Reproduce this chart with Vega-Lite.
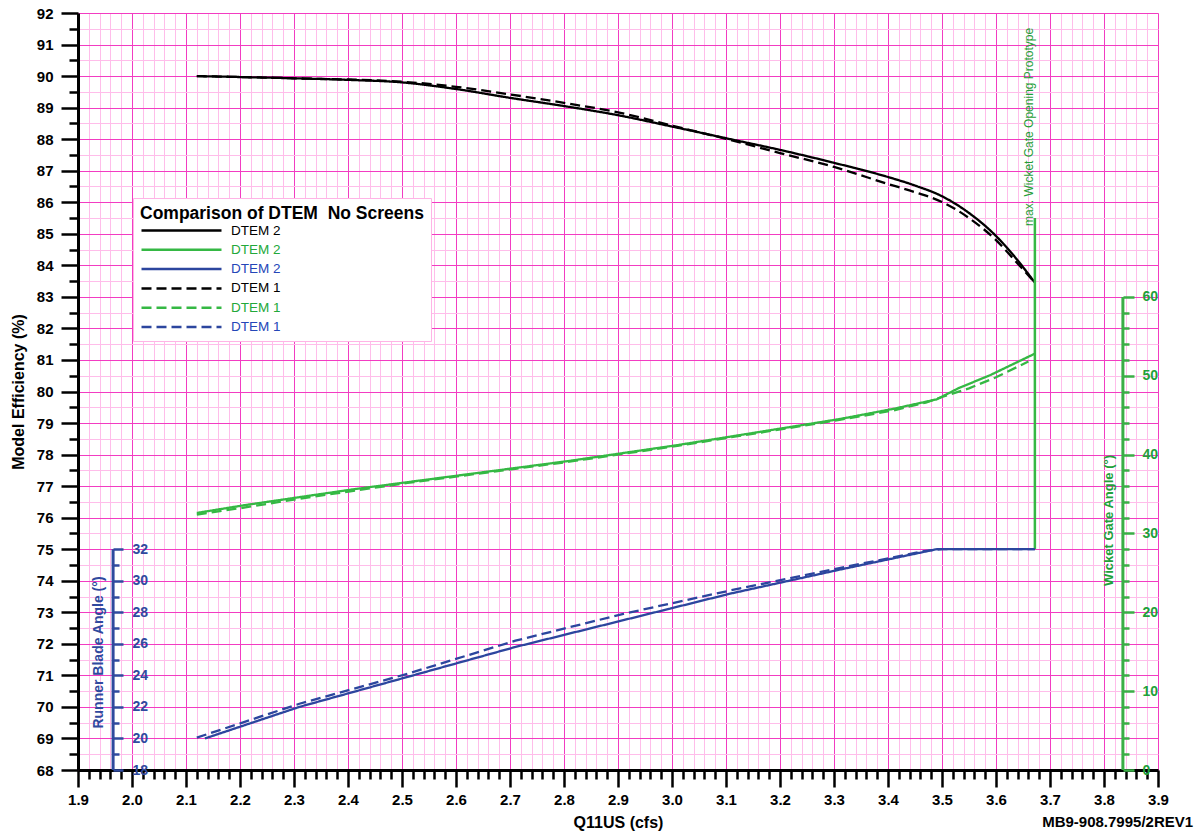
{
  "$schema": "https://vega.github.io/schema/vega-lite/v6.json",
  "width": 1080,
  "height": 757,
  "autosize": {"type": "none"},
  "padding": {"left": 78, "top": 13, "right": 42, "bottom": 63},
  "background": "white",
  "config": {
    "view": {"stroke": null},
    "font": "Liberation Sans",
    "axis": {"labelFont": "Liberation Sans", "titleFont": "Liberation Sans"},
    "text": {"font": "Liberation Sans"}
  },
  "datasets": {
    "curves": [
      {"s": "k2", "x": 2.12, "v": 90.0}, {"s": "k2", "x": 2.2, "v": 89.97}, {"s": "k2", "x": 2.3, "v": 89.93}, {"s": "k2", "x": 2.4, "v": 89.88}, {"s": "k2", "x": 2.5, "v": 89.8}, {"s": "k2", "x": 2.6, "v": 89.59}, {"s": "k2", "x": 2.7, "v": 89.31}, {"s": "k2", "x": 2.8, "v": 89.05}, {"s": "k2", "x": 2.9, "v": 88.76}, {"s": "k2", "x": 3.0, "v": 88.4}, {"s": "k2", "x": 3.1, "v": 88.03}, {"s": "k2", "x": 3.2, "v": 87.66}, {"s": "k2", "x": 3.3, "v": 87.25}, {"s": "k2", "x": 3.4, "v": 86.8}, {"s": "k2", "x": 3.45, "v": 86.53}, {"s": "k2", "x": 3.5, "v": 86.19}, {"s": "k2", "x": 3.55, "v": 85.66}, {"s": "k2", "x": 3.6, "v": 84.93}, {"s": "k2", "x": 3.64, "v": 84.16}, {"s": "k2", "x": 3.672, "v": 83.45},
      {"s": "k1", "x": 2.12, "v": 90.0}, {"s": "k1", "x": 2.3, "v": 89.93}, {"s": "k1", "x": 2.5, "v": 89.82}, {"s": "k1", "x": 2.6, "v": 89.66}, {"s": "k1", "x": 2.7, "v": 89.42}, {"s": "k1", "x": 2.8, "v": 89.15}, {"s": "k1", "x": 2.9, "v": 88.85}, {"s": "k1", "x": 3.0, "v": 88.43}, {"s": "k1", "x": 3.1, "v": 88.01}, {"s": "k1", "x": 3.2, "v": 87.56}, {"s": "k1", "x": 3.3, "v": 87.12}, {"s": "k1", "x": 3.4, "v": 86.58}, {"s": "k1", "x": 3.45, "v": 86.32}, {"s": "k1", "x": 3.5, "v": 86.01}, {"s": "k1", "x": 3.55, "v": 85.5}, {"s": "k1", "x": 3.6, "v": 84.8}, {"s": "k1", "x": 3.64, "v": 84.06}, {"s": "k1", "x": 3.672, "v": 83.45},
      {"s": "g2", "x": 2.12, "v": 32.6}, {"s": "g2", "x": 2.21, "v": 33.6}, {"s": "g2", "x": 2.31, "v": 34.6}, {"s": "g2", "x": 2.41, "v": 35.6}, {"s": "g2", "x": 2.51, "v": 36.5}, {"s": "g2", "x": 2.61, "v": 37.4}, {"s": "g2", "x": 2.71, "v": 38.3}, {"s": "g2", "x": 2.81, "v": 39.2}, {"s": "g2", "x": 2.91, "v": 40.2}, {"s": "g2", "x": 3.01, "v": 41.2}, {"s": "g2", "x": 3.11, "v": 42.3}, {"s": "g2", "x": 3.21, "v": 43.4}, {"s": "g2", "x": 3.31, "v": 44.5}, {"s": "g2", "x": 3.41, "v": 45.8}, {"s": "g2", "x": 3.49, "v": 47.0}, {"s": "g2", "x": 3.53, "v": 48.4}, {"s": "g2", "x": 3.59, "v": 50.1}, {"s": "g2", "x": 3.672, "v": 52.8},
      {"s": "g1", "x": 2.12, "v": 32.4}, {"s": "g1", "x": 2.21, "v": 33.3}, {"s": "g1", "x": 2.31, "v": 34.4}, {"s": "g1", "x": 2.41, "v": 35.4}, {"s": "g1", "x": 2.51, "v": 36.4}, {"s": "g1", "x": 2.61, "v": 37.3}, {"s": "g1", "x": 2.71, "v": 38.2}, {"s": "g1", "x": 2.81, "v": 39.1}, {"s": "g1", "x": 2.91, "v": 40.1}, {"s": "g1", "x": 3.01, "v": 41.1}, {"s": "g1", "x": 3.11, "v": 42.2}, {"s": "g1", "x": 3.21, "v": 43.3}, {"s": "g1", "x": 3.31, "v": 44.4}, {"s": "g1", "x": 3.41, "v": 45.6}, {"s": "g1", "x": 3.47, "v": 46.6}, {"s": "g1", "x": 3.5, "v": 47.3}, {"s": "g1", "x": 3.55, "v": 48.4}, {"s": "g1", "x": 3.6, "v": 49.8}, {"s": "g1", "x": 3.66, "v": 51.8},
      {"s": "b2", "x": 2.135, "v": 20.0}, {"s": "b2", "x": 2.31, "v": 22.0}, {"s": "b2", "x": 2.51, "v": 23.9}, {"s": "b2", "x": 2.71, "v": 25.8}, {"s": "b2", "x": 2.91, "v": 27.5}, {"s": "b2", "x": 3.11, "v": 29.2}, {"s": "b2", "x": 3.31, "v": 30.7}, {"s": "b2", "x": 3.49, "v": 32.0}, {"s": "b2", "x": 3.672, "v": 32.0},
      {"s": "b1", "x": 2.12, "v": 20.05}, {"s": "b1", "x": 2.31, "v": 22.2}, {"s": "b1", "x": 2.51, "v": 24.1}, {"s": "b1", "x": 2.71, "v": 26.2}, {"s": "b1", "x": 2.91, "v": 27.9}, {"s": "b1", "x": 3.11, "v": 29.4}, {"s": "b1", "x": 3.31, "v": 30.8}, {"s": "b1", "x": 3.47, "v": 31.9}, {"s": "b1", "x": 3.5, "v": 32.0}, {"s": "b1", "x": 3.672, "v": 32.0}
    ]
  },
  "data": {"name": "curves"},
  "layer": [
    {
      "layer": [
        {
          "transform": [{"filter": "substring(datum.s,0,1) == 'k'"}],
          "mark": {"type": "line", "strokeWidth": 2.3, "interpolate": "monotone"},
          "encoding": {
            "x": {
              "field": "x", "type": "quantitative",
              "scale": {"domain": [1.9, 3.9], "nice": false, "zero": false},
              "title": "Q11US (cfs)",
              "axis": {
                "values": [1.9,1.92,1.94,1.96,1.98,2,2.02,2.04,2.06,2.08,2.1,2.12,2.14,2.16,2.18,2.2,2.22,2.24,2.26,2.28,2.3,2.32,2.34,2.36,2.38,2.4,2.42,2.44,2.46,2.48,2.5,2.52,2.54,2.56,2.58,2.6,2.62,2.64,2.66,2.68,2.7,2.72,2.74,2.76,2.78,2.8,2.82,2.84,2.86,2.88,2.9,2.92,2.94,2.96,2.98,3,3.02,3.04,3.06,3.08,3.1,3.12,3.14,3.16,3.18,3.2,3.22,3.24,3.26,3.28,3.3,3.32,3.34,3.36,3.38,3.4,3.42,3.44,3.46,3.48,3.5,3.52,3.54,3.56,3.58,3.6,3.62,3.64,3.66,3.68,3.7,3.72,3.74,3.76,3.78,3.8,3.82,3.84,3.86,3.88,3.9],
                "tickCount": 1000,
                "grid": true,
                "gridColor": {"condition": {"test": "abs(datum.value*10 - round(datum.value*10)) < 0.001", "value": "#f23cc2"}, "value": "#ffbdea"},
                "gridWidth": 1,
                "tickColor": "black",
                "tickWidth": 2.5,
                "tickSize": {"condition": {"test": "abs(datum.value*10 - round(datum.value*10)) < 0.001", "value": 17}, "value": 9},
                "domainColor": "black",
                "domainWidth": 3,
                "labelExpr": "abs(datum.value*10 - round(datum.value*10)) < 0.001 ? format(datum.value, '.1f') : ''",
                "labelFontSize": 15,
                "labelFontWeight": "bold",
                "labelColor": "black",
                "labelPadding": 5,
                "labelOverlap": false,
                "labelFlush": false,
                "labelBound": false,
                "titleFontSize": 16,
                "titleFontWeight": "bold",
                "titleColor": "black",
                "titlePadding": 7
              }
            },
            "y": {
              "field": "v", "type": "quantitative",
              "scale": {"domain": [68, 92], "nice": false, "zero": false},
              "title": "Model Efficiency (%)",
              "axis": {
                "orient": "left",
                "values": [68,68.5,69,69.5,70,70.5,71,71.5,72,72.5,73,73.5,74,74.5,75,75.5,76,76.5,77,77.5,78,78.5,79,79.5,80,80.5,81,81.5,82,82.5,83,83.5,84,84.5,85,85.5,86,86.5,87,87.5,88,88.5,89,89.5,90,90.5,91,91.5,92],
                "tickCount": 1000,
                "grid": true,
                "gridColor": {"condition": {"test": "datum.value % 1 == 0", "value": "#f23cc2"}, "value": "#ffbdea"},
                "gridWidth": 1,
                "tickColor": "black",
                "tickWidth": 2.5,
                "tickSize": {"condition": {"test": "datum.value % 1 == 0", "value": 17}, "value": 9},
                "domainColor": "black",
                "domainWidth": 3,
                "labelExpr": "datum.value % 1 == 0 ? format(datum.value, 'd') : ''",
                "labelFontSize": 15,
                "labelFontWeight": "bold",
                "labelColor": "black",
                "labelPadding": 8,
                "labelOverlap": false,
                "labelFlush": false,
                "labelBound": false,
                "titleFontSize": 16,
                "titleFontWeight": "bold",
                "titleColor": "black",
                "titlePadding": 10
              }
            },
            "color": {
              "field": "s", "type": "nominal",
              "scale": {"domain": ["k2", "g2", "b2", "k1", "g1", "b1"], "range": ["#000000", "#35b844", "#2c469e", "#000000", "#35b844", "#2c469e"]},
              "legend": {
                "title": "Comparison of DTEM\u00a0 No Screens",
                "orient": "none",
                "legendX": 55,
                "legendY": 185,
                "fillColor": "white",
                "strokeColor": "#ffb4e6",
                "padding": 7,
                "titleFont": "Liberation Sans",
                "titleFontSize": 17.5,
                "titleFontWeight": "bold",
                "titleColor": "black",
                "titlePadding": 1,
                "titleLimit": 400,
                "labelFont": "Liberation Sans",
                "labelFontSize": 13.5,
                "labelOffset": 8,
                "labelExpr": "substring(datum.value,1,2) == '2' ? 'DTEM 2' : 'DTEM 1'",
                "symbolType": "stroke",
                "symbolSize": 6400,
                "symbolStrokeWidth": 2.5,
                "clipHeight": 14,
                "rowPadding": 5.3,
                "encode": {"labels": {"update": {"fill": {"signal": "substring(datum.value,0,1) == 'g' ? '#22a83a' : substring(datum.value,0,1) == 'b' ? '#2446b8' : '#000000'"}}}}
              }
            },
            "strokeDash": {
              "field": "s", "type": "nominal",
              "scale": {"domain": ["k2", "g2", "b2", "k1", "g1", "b1"], "range": [[1, 0], [1, 0], [1, 0], [10, 5], [10, 5], [10, 5]]}
            }
          }
        },
        {
          "data": {"values": [{}]},
          "mark": {"type": "rule", "color": "#35b844", "strokeWidth": 2.5},
          "encoding": {
            "x": {"datum": 3.672, "type": "quantitative"},
            "y": {"datum": 75, "type": "quantitative"},
            "y2": {"datum": 85.5}
          }
        },
        {
          "data": {"values": [{}]},
          "mark": {"type": "text", "angle": 270, "align": "left", "baseline": "middle", "fontSize": 12, "color": "#1f9e38"},
          "encoding": {
            "x": {"datum": 3.661, "type": "quantitative"},
            "y": {"datum": 85.25, "type": "quantitative"},
            "text": {"value": "max. Wicket Gate Opening Prototype"}
          }
        },
        {
          "data": {"values": [{}]},
          "mark": {"type": "text", "align": "right", "baseline": "middle", "fontSize": 15, "fontWeight": "bold", "color": "black"},
          "encoding": {
            "x": {"datum": 3.965, "type": "quantitative"},
            "y": {"datum": 66.35, "type": "quantitative"},
            "text": {"value": "MB9-908.7995/2REV1"}
          }
        }
      ]
    },
    {
      "layer": [
        {
          "data": {"values": [{}]},
          "mark": {"type": "rule", "color": "#2f4a9e", "strokeWidth": 3},
          "encoding": {
            "x": {"datum": 1.965, "type": "quantitative"},
            "y": {"datum": 18, "type": "quantitative", "scale": {"domain": [18, 66], "nice": false, "zero": false},
              "axis": {
                "orient": "right",
                "offset": -1045,
                "values": [18,19,20,21,22,23,24,25,26,27,28,29,30,31,32],
                "tickCount": 1000,
                "domain": false,
                "grid": false,
                "tickColor": "#2f4a9e",
                "tickWidth": 2.5,
                "tickSize": {"condition": {"test": "datum.value % 2 == 0", "value": 10}, "value": 6},
                "labelExpr": "datum.value % 2 == 0 ? format(datum.value, 'd') : ''",
                "labelColor": "#2f4a9e",
                "labelFontSize": 14,
                "labelFontWeight": "bold",
                "labelPadding": 9,
                "labelOverlap": false,
                "labelFlush": false,
                "labelBound": false,
                "title": "Runner Blade Angle (°)",
                "titleColor": "#2f4a9e",
                "titleFontSize": 14,
                "titleFontWeight": "bold",
                "titleAngle": 270,
                "titleX": -15,
                "titleY": 639,
                "titleAlign": "center",
                "titleBaseline": "middle"
              }
            },
            "y2": {"datum": 32}
          }
        },
        {
          "transform": [{"filter": "substring(datum.s,0,1) == 'b'"}],
          "mark": {"type": "line", "strokeWidth": 2.3},
          "encoding": {
            "x": {"field": "x", "type": "quantitative"},
            "y": {"field": "v", "type": "quantitative"},
            "color": {"field": "s", "type": "nominal"},
            "strokeDash": {"field": "s", "type": "nominal"}
          }
        }
      ]
    },
    {
      "layer": [
        {
          "data": {"values": [{}]},
          "mark": {"type": "rule", "color": "#3aae46", "strokeWidth": 3},
          "encoding": {
            "x": {"datum": 3.835, "type": "quantitative"},
            "y": {"datum": 0, "type": "quantitative", "scale": {"domain": [0, 96], "nice": false, "zero": false},
              "axis": {
                "orient": "right",
                "offset": -35,
                "values": [0,2,4,6,8,10,12,14,16,18,20,22,24,26,28,30,32,34,36,38,40,42,44,46,48,50,52,54,56,58,60],
                "tickCount": 1000,
                "domain": false,
                "grid": false,
                "tickColor": "#3aae46",
                "tickWidth": 2.5,
                "tickSize": {"condition": {"test": "datum.value % 10 == 0", "value": 11}, "value": 6},
                "labelExpr": "datum.value % 10 == 0 ? format(datum.value, 'd') : ''",
                "labelColor": "#22a03a",
                "labelFontSize": 14,
                "labelFontWeight": "bold",
                "labelPadding": 8,
                "labelOverlap": false,
                "labelFlush": false,
                "labelBound": false,
                "title": "Wicket Gate Angle (°)",
                "titleColor": "#22a03a",
                "titleFontSize": 13,
                "titleFontWeight": "bold",
                "titleAngle": 270,
                "titleX": -15,
                "titleY": 507,
                "titleAlign": "center",
                "titleBaseline": "middle"
              }
            },
            "y2": {"datum": 60}
          }
        },
        {
          "transform": [{"filter": "substring(datum.s,0,1) == 'g'"}],
          "mark": {"type": "line", "strokeWidth": 2.3},
          "encoding": {
            "x": {"field": "x", "type": "quantitative"},
            "y": {"field": "v", "type": "quantitative"},
            "color": {"field": "s", "type": "nominal"},
            "strokeDash": {"field": "s", "type": "nominal"}
          }
        }
      ]
    }
  ],
  "resolve": {"scale": {"y": "independent"}}
}
